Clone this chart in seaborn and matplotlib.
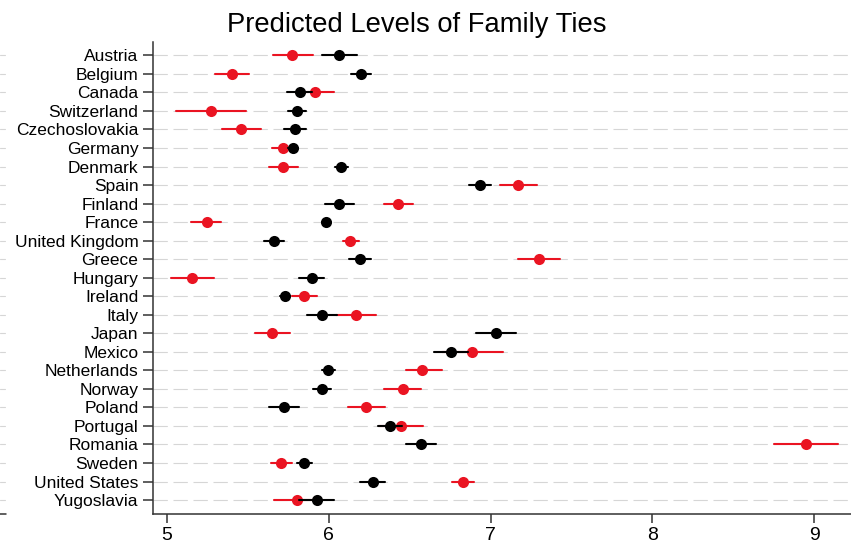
import matplotlib
matplotlib.use("Agg")
import matplotlib.pyplot as plt
import matplotlib.transforms as mtransforms
import seaborn as sns
import pandas as pd

countries = ["Austria", "Belgium", "Canada", "Switzerland", "Czechoslovakia",
             "Germany", "Denmark", "Spain", "Finland", "France",
             "United Kingdom", "Greece", "Hungary", "Ireland", "Italy",
             "Japan", "Mexico", "Netherlands", "Norway", "Poland",
             "Portugal", "Romania", "Sweden", "United States", "Yugoslavia"]

black_mid = [6.063, 6.199, 5.820, 5.803, 5.791, 5.779, 6.075, 6.934, 6.065, 5.985,
             5.663, 6.195, 5.894, 5.731, 5.956, 7.031, 6.753, 5.997, 5.956, 5.723,
             6.378, 6.570, 5.847, 6.271, 5.925]
black_lo = [5.956, 6.137, 5.744, 5.750, 5.723, 5.750, 6.038, 6.868, 5.977, 5.960,
            5.601, 6.127, 5.818, 5.700, 5.863, 6.908, 6.650, 5.956, 5.904, 5.632,
            6.302, 6.475, 5.802, 6.193, 5.816]
black_hi = [6.176, 6.261, 5.896, 5.857, 5.859, 5.810, 6.121, 7.002, 6.158, 6.010,
            5.725, 6.261, 5.970, 5.762, 6.049, 7.155, 6.860, 6.040, 6.013, 5.818,
            6.454, 6.664, 5.894, 6.347, 6.034]

red_mid = [5.775, 5.404, 5.913, 5.270, 5.459, 5.719, 5.717, 7.171, 6.430, 5.245,
           6.133, 7.301, 5.157, 5.849, 6.166, 5.651, 6.887, 6.576, 6.457, 6.230,
           6.446, 8.947, 5.703, 6.827, 5.805]
red_lo = [5.657, 5.297, 5.792, 5.056, 5.340, 5.650, 5.632, 7.058, 6.343, 5.148,
          6.086, 7.171, 5.023, 5.775, 6.042, 5.544, 6.700, 6.475, 6.343, 6.117,
          6.310, 8.752, 5.641, 6.760, 5.661]
red_hi = [5.900, 5.509, 6.034, 5.488, 5.583, 5.788, 5.811, 7.285, 6.522, 5.334,
          6.189, 7.431, 5.292, 5.929, 6.290, 5.762, 7.075, 6.700, 6.568, 6.347,
          6.580, 9.149, 5.771, 6.899, 5.950]

xticks = [5, 6, 7, 8, 9]
title = "Predicted Levels of Family Ties"

RED = "#EA1422"
GRID = "#d6d6d6"
AX = "#333333"

rows = []
for grp, lo, mid, hi in [("red", red_lo, red_mid, red_hi),
                         ("black", black_lo, black_mid, black_hi)]:
    for c, a, m, b in zip(countries, lo, mid, hi):
        for v in (a, m, b):
            rows.append({"country": c, "group": grp, "value": v})
df = pd.DataFrame(rows)

sns.set_theme(style="white")
plt.rcParams["font.family"] = ["Liberation Sans", "DejaVu Sans"]

W, H = 851, 551
fig = plt.figure(figsize=(W / 100, H / 100), dpi=100)
ax = fig.add_axes([153 / W, 36.7 / H, (W - 153) / W, (509 - 36.7) / H])

sns.pointplot(data=df, x="value", y="country", hue="group",
              order=countries, hue_order=["red", "black"],
              palette={"red": RED, "black": "black"},
              estimator="median", errorbar=("pi", 100),
              linestyle="none", marker="o", markersize=8,
              markeredgewidth=0, err_kws={"linewidth": 1.5},
              dodge=False, legend=False, ax=ax)

ax.set_xlim(4.9135, 9.227)
ax.set_ylim(24.77, -0.72)
ax.set_xticks(xticks)
ax.set_xticklabels([str(t) for t in xticks])
ax.set_xlabel("")
ax.set_ylabel("")

ax.grid(False)
ax.yaxis.grid(True, color=GRID, linestyle=(0, (12.9, 5.1)), linewidth=0.8)
ax.set_axisbelow(True)

for s in ["top", "right"]:
    ax.spines[s].set_visible(False)
for s in ["left", "bottom"]:
    ax.spines[s].set_color(AX)
    ax.spines[s].set_linewidth(1.1)

ax.tick_params(axis="y", direction="out", length=7, width=1.1, color=AX,
               labelsize=12.5, pad=3.5, labelcolor="black", left=True)
ax.tick_params(axis="x", direction="out", length=6.5, width=1.1, color=AX,
               labelsize=14, pad=2.5, labelcolor="black", bottom=True)

# stubs of neighbouring panel at far left edge
trans = mtransforms.blended_transform_factory(fig.transFigure, ax.transData)
for i in range(len(countries)):
    ax.plot([0, 5 / W], [i, i], transform=trans, color=GRID, lw=0.8,
            clip_on=False)
trans2 = mtransforms.blended_transform_factory(fig.transFigure, ax.transAxes)
ax.plot([0, 6 / W], [0, 0], transform=trans2, color=AX, lw=1.1, clip_on=False)

fig.text(416.5 / W, 1 - 32 / H, title, ha="center", va="baseline",
         fontsize=19.7, color="black")

fig.savefig("out.png", dpi=100)
